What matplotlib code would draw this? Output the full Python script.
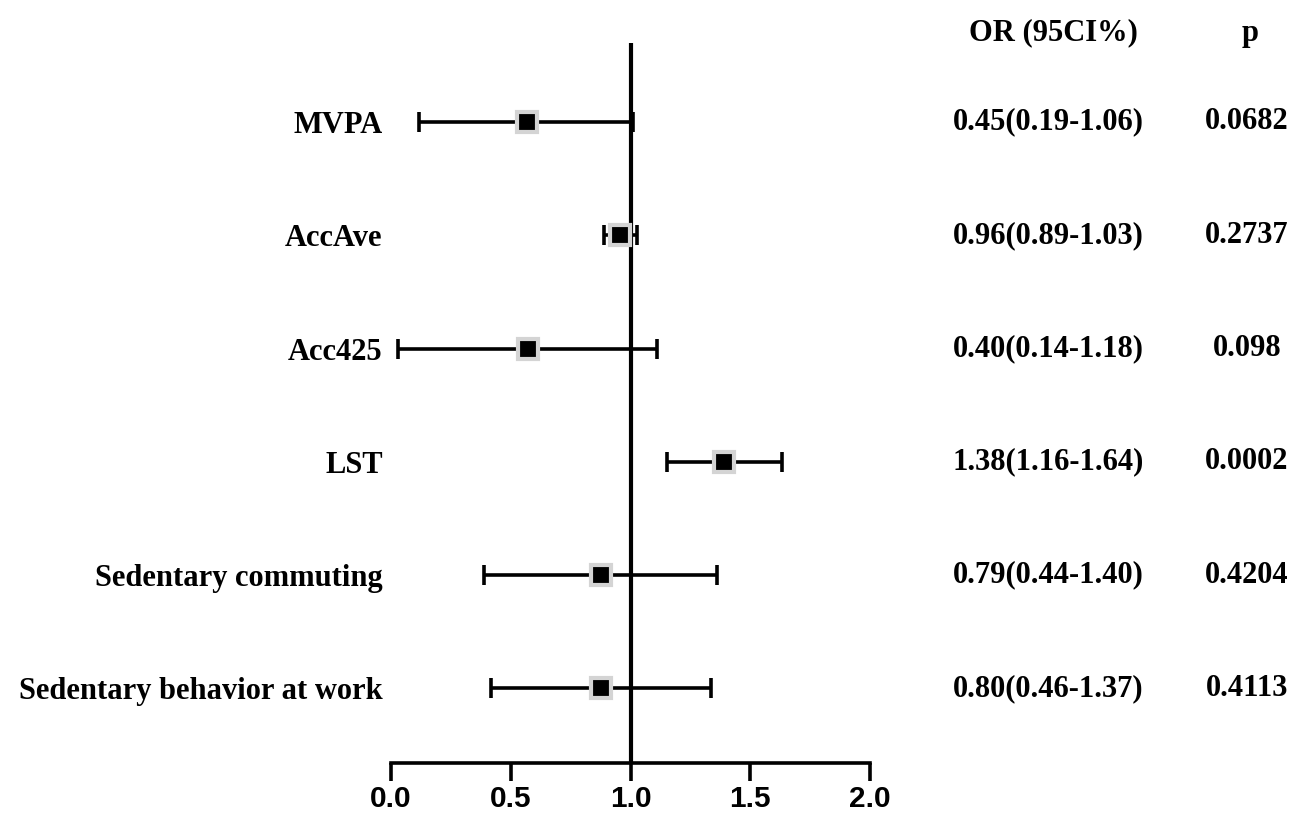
import matplotlib.pyplot as plt
from matplotlib.transforms import blended_transform_factory

# rows, top to bottom
labels = ["MVPA", "AccAve", "Acc425", "LST",
          "Sedentary commuting", "Sedentary behavior at work"]
# positions as drawn in the figure
estimate = [0.567, 0.956, 0.571, 1.39, 0.876, 0.876]
ci_low = [0.118, 0.889, 0.031, 1.151, 0.390, 0.418]
ci_high = [1.012, 1.028, 1.112, 1.631, 1.360, 1.335]
or_text = ["0.45(0.19-1.06)", "0.96(0.89-1.03)", "0.40(0.14-1.18)",
           "1.38(1.16-1.64)", "0.79(0.44-1.40)", "0.80(0.46-1.37)"]
p_text = ["0.0682", "0.2737", "0.098", "0.0002", "0.4204", "0.4113"]
xticks = [0.0, 0.5, 1.0, 1.5, 2.0]

n = len(labels)
ypos = list(range(n, 0, -1))

fig = plt.figure(figsize=(13.04, 8.19), dpi=100)
ax = fig.add_axes([391 / 1304, 1 - 762.7 / 819, 479 / 1304, (762.7 - 42.7) / 819])

serif = ["Liberation Serif", "DejaVu Serif"]
sans = ["Liberation Sans", "DejaVu Sans"]

ax.axvline(1.0, color="black", lw=3.0, zorder=1)

err = [[e - l for e, l in zip(estimate, ci_low)],
       [h - e for e, h in zip(estimate, ci_high)]]
ax.errorbar(estimate, ypos, xerr=err, fmt="none", ecolor="black",
            elinewidth=2.6, capsize=7.2, capthick=2.6, zorder=2)
ax.plot(estimate, ypos, "s", color="black", markersize=15,
        markeredgecolor="#d4d4d4", markeredgewidth=3.0, linestyle="none", zorder=3)

ax.set_xlim(0, 2)
ax.set_ylim(1 - 0.657, n + 0.70)
ax.set_xticks(xticks)
ax.set_xticklabels([f"{t:.1f}" for t in xticks], family=sans,
                   fontweight="bold", fontsize=21.5)
ax.set_yticks(ypos)
ax.set_yticklabels(labels, family=serif, fontweight="bold", fontsize=22)
ax.tick_params(axis="y", length=0, pad=6)
ax.tick_params(axis="x", length=13, width=2.6, direction="out", pad=3)

for side in ["top", "right", "left"]:
    ax.spines[side].set_visible(False)
ax.spines["bottom"].set_linewidth(2.6)
ax.spines["bottom"].set_capstyle("projecting")

trans = blended_transform_factory(fig.transFigure, ax.transData)
for y, o, p in zip(ypos, or_text, p_text):
    ax.text(1048 / 1304, y, o, transform=trans, ha="center", va="center",
            family=serif, fontweight="bold", fontsize=22, clip_on=False)
    ax.text(1247 / 1304, y, p, transform=trans, ha="center", va="center",
            family=serif, fontweight="bold", fontsize=22, clip_on=False)

fig.text(1053 / 1304, 1 - 33 / 819, "OR (95CI%)", ha="center", va="center",
         family=serif, fontweight="bold", fontsize=22)
fig.text(1250 / 1304, 1 - 33 / 819, "p", ha="center", va="center",
         family=serif, fontweight="bold", fontsize=22)

fig.savefig("out.png", dpi=100)
